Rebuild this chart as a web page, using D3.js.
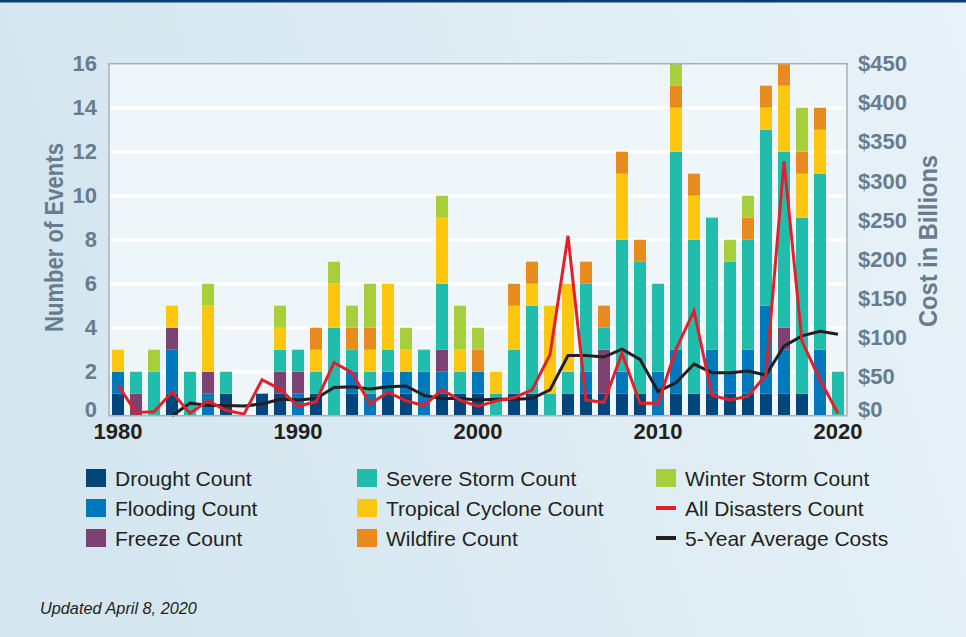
<!DOCTYPE html>
<html>
<head>
<meta charset="utf-8">
<script src="https://cdnjs.cloudflare.com/ajax/libs/d3/7.8.5/d3.min.js"></script>
<style>
  html, body { margin: 0; padding: 0; }
  body { width: 966px; height: 637px; overflow: hidden; }
  svg { display: block; }
</style>
</head>
<body>
<svg id="chart"></svg>
<script>
// data, one value per year 1980-2020
const years = d3.range(1980, 2021);
const drought  = [1,0,0,1,0,0,1,0,1,1, 0,1,0,1,0,1,1,0,1,1, 1,0,1,1,0,1,1,1,1,1, 0,1,1,1,1,1,1,1,1,0, 0];
const flooding = [1,0,0,2,0,1,0,0,0,0, 1,0,0,1,1,1,1,2,1,0, 1,0,0,0,0,0,1,0,1,0, 2,2,0,2,1,2,4,2,0,3, 0];
const freeze   = [0,1,0,1,0,1,0,0,0,1, 1,0,0,0,0,0,0,0,1,0, 0,0,0,0,0,0,0,2,0,0, 0,0,0,0,0,0,0,1,0,0, 0];
const severe   = [0,1,2,0,2,0,1,0,0,1, 1,1,4,1,1,1,0,1,3,1, 0,1,2,4,1,1,4,1,6,6, 4,9,7,6,5,5,8,8,8,8, 2];
const tropical = [1,0,0,1,0,3,0,0,0,1, 0,1,2,0,1,3,1,0,3,1, 0,1,2,1,4,4,0,0,3,0, 0,2,2,0,0,0,1,3,2,2, 0];
const wildfire = [0,0,0,0,0,0,0,0,0,0, 0,1,0,1,1,0,0,0,0,0, 1,0,1,1,0,0,1,1,1,1, 0,1,1,0,0,1,1,1,1,1, 0];
const winter   = [0,0,1,0,0,1,0,0,0,1, 0,0,1,1,2,0,1,0,1,2, 1,0,0,0,0,0,0,0,0,0, 0,1,0,0,1,1,0,0,2,0, 0];

// costs in billions of dollars
const allCost = [39,4,5,30,3,19,7,2,46,34, 12,18,68,55,15,30,19,13,33,20,
                 12,19,23,33,78,230,20,17,80,16, 16,85,134,26,20,25,52,325,95,46, 3];
const avgCost = [null,null,null,0,16,13,13,12.5,15,21, 20,22,36,37,34,37,38,26,22,22,
                 20,21,21,22,33,77,77,75,85,72, 31,42,66,55,55,57,52,89,102,108, 104];

const countTicks = d3.range(0, 17, 2);
const costTicks = d3.range(0, 451, 50);
const yearTicks = [1980, 1990, 2000, 2010, 2020];

const seriesKeys = ['drought', 'flooding', 'freeze', 'severe', 'tropical', 'wildfire', 'winter'];
const seriesNames = ['Drought Count', 'Flooding Count', 'Freeze Count', 'Severe Storm Count',
                     'Tropical Cyclone Count', 'Wildfire Count', 'Winter Storm Count'];
const seriesColors = ['#00457c', '#0078bc', '#7e4173', '#21bdac', '#fec70f', '#e78b1f', '#a7cf3b'];

const width = 966;
const height = 637;
const plot = {left: 109, right: 847, top: 63.7, bottom: 415.7};
const narrow = '"Liberation Sans Narrow", "Arial Narrow", sans-serif';
const axisGray = '#677c8f';

const svg = d3.select('#chart')
  .attr('width', width)
  .attr('height', height);

// page background
const defs = svg.append('defs');
const bg = defs.append('linearGradient')
  .attr('id', 'bg')
  .attr('x1', 0).attr('y1', 0.2).attr('x2', 1).attr('y2', 0);
bg.append('stop').attr('offset', 0).attr('stop-color', '#d4e6f0');
bg.append('stop').attr('offset', 1).attr('stop-color', '#e8f2f8');

svg.append('rect')
  .attr('width', width).attr('height', height)
  .attr('fill', 'url(#bg)');
svg.append('rect')
  .attr('width', width).attr('height', 2.5)
  .attr('fill', '#0b3f70');

// table for the stack
const table = years.map((y, i) => ({
  year: y,
  drought: drought[i], flooding: flooding[i], freeze: freeze[i], severe: severe[i],
  tropical: tropical[i], wildfire: wildfire[i], winter: winter[i]
}));

// scales
const x = d3.scaleBand()
  .domain(years)
  .range([plot.left, plot.right])
  .paddingInner(0.333)
  .paddingOuter(0.167);

const y = d3.scaleLinear()
  .domain([0, 16])
  .range([plot.bottom, plot.top]);

const yCost = d3.scaleLinear()
  .domain([0, 450])
  .range([plot.bottom, plot.top]);

const color = d3.scaleOrdinal().domain(seriesKeys).range(seriesColors);

// plot area
svg.append('rect')
  .attr('x', plot.left).attr('y', plot.top)
  .attr('width', plot.right - plot.left)
  .attr('height', plot.bottom - plot.top)
  .attr('fill', '#eef6f9');

svg.append('g')
  .selectAll('line')
  .data(countTicks.filter(d => d > 0 && d < 16))
  .join('line')
  .attr('x1', plot.left).attr('x2', plot.right)
  .attr('y1', d => y(d)).attr('y2', d => y(d))
  .attr('stroke', '#ffffff')
  .attr('stroke-width', 3);

// stacked bars
const stack = d3.stack().keys(seriesKeys);
svg.append('g')
  .selectAll('g')
  .data(stack(table))
  .join('g')
  .attr('fill', d => color(d.key))
  .selectAll('rect')
  .data(d => d.filter(s => s[1] > s[0]))
  .join('rect')
  .attr('x', d => x(d.data.year))
  .attr('y', d => y(d[1]))
  .attr('width', x.bandwidth())
  .attr('height', d => y(d[0]) - y(d[1]));

// cost lines
const xc = d => x(d) + x.bandwidth() / 2;

const line = d3.line()
  .defined(d => d[1] != null)
  .x(d => xc(d[0]))
  .y(d => yCost(d[1]));

svg.append('path')
  .datum(years.map((yr, i) => [yr, avgCost[i]]))
  .attr('d', line)
  .attr('fill', 'none')
  .attr('stroke', '#231f20')
  .attr('stroke-width', 3);

svg.append('path')
  .datum(years.map((yr, i) => [yr, allCost[i]]))
  .attr('d', line)
  .attr('fill', 'none')
  .attr('stroke', '#e0212c')
  .attr('stroke-width', 3);

// plot border
svg.append('rect')
  .attr('x', plot.left).attr('y', plot.top)
  .attr('width', plot.right - plot.left)
  .attr('height', plot.bottom - plot.top)
  .attr('fill', 'none')
  .attr('stroke', '#a9afb5')
  .attr('stroke-width', 1.5);

// axes
const leftAxis = svg.append('g')
  .attr('transform', `translate(${plot.left}, 0)`)
  .call(d3.axisLeft(y).tickValues(countTicks).tickSize(0).tickPadding(12));

const rightAxis = svg.append('g')
  .attr('transform', `translate(${plot.right}, 0)`)
  .call(d3.axisRight(yCost).tickValues(costTicks).tickSize(0).tickPadding(11)
    .tickFormat(d => '$' + d));

const bottomAxis = svg.append('g')
  .attr('transform', `translate(0, ${plot.bottom})`)
  .call(d3.axisBottom(x).tickValues(yearTicks).tickSize(0).tickPadding(8));

[leftAxis, rightAxis, bottomAxis].forEach(g => {
  g.select('.domain').remove();
  g.selectAll('text')
    .style('font-family', narrow)
    .style('font-weight', 'bold')
    .style('font-size', '22px');
});
leftAxis.selectAll('text').attr('fill', axisGray);
rightAxis.selectAll('text').attr('fill', axisGray);
bottomAxis.selectAll('text').attr('fill', '#231f20');
// the zero labels sit a little above the baseline
leftAxis.selectAll('.tick').filter(d => d === 0).select('text').attr('dy', '0.05em');
rightAxis.selectAll('.tick').filter(d => d === 0).select('text').attr('dy', '0.05em');

// axis titles
svg.append('text')
  .attr('transform', 'translate(63, 237.5) rotate(-90)')
  .attr('text-anchor', 'middle')
  .attr('textLength', 189)
  .attr('lengthAdjust', 'spacingAndGlyphs')
  .style('font-family', narrow)
  .style('font-weight', 'bold')
  .style('font-size', '26px')
  .attr('fill', axisGray)
  .text('Number of Events');

svg.append('text')
  .attr('transform', 'translate(937, 241) rotate(-90)')
  .attr('text-anchor', 'middle')
  .attr('textLength', 172)
  .attr('lengthAdjust', 'spacingAndGlyphs')
  .style('font-family', narrow)
  .style('font-weight', 'bold')
  .style('font-size', '26px')
  .attr('fill', axisGray)
  .text('Cost in Billions');

// legend
const legendItems = [
  {name: seriesNames[0], color: seriesColors[0], type: 'box', col: 0, row: 0},
  {name: seriesNames[1], color: seriesColors[1], type: 'box', col: 0, row: 1},
  {name: seriesNames[2], color: seriesColors[2], type: 'box', col: 0, row: 2},
  {name: seriesNames[3], color: seriesColors[3], type: 'box', col: 1, row: 0},
  {name: seriesNames[4], color: seriesColors[4], type: 'box', col: 1, row: 1},
  {name: seriesNames[5], color: seriesColors[5], type: 'box', col: 1, row: 2},
  {name: seriesNames[6], color: seriesColors[6], type: 'box', col: 2, row: 0},
  {name: 'All Disasters Count', color: '#e0212c', type: 'line', col: 2, row: 1},
  {name: '5-Year Average Costs', color: '#231f20', type: 'line', col: 2, row: 2}
];
const colX = [86, 357, 656];

const legend = svg.append('g')
  .selectAll('g')
  .data(legendItems)
  .join('g')
  .attr('transform', d => `translate(${colX[d.col]}, ${478 + d.row * 30})`);

legend.filter(d => d.type === 'box').append('rect')
  .attr('x', 0).attr('y', -9)
  .attr('width', 20).attr('height', 18)
  .attr('fill', d => d.color);

legend.filter(d => d.type === 'line').append('rect')
  .attr('x', 0).attr('y', -2)
  .attr('width', 20).attr('height', 4)
  .attr('fill', d => d.color);

legend.append('text')
  .attr('x', 29)
  .attr('y', 0)
  .attr('dy', '0.36em')
  .style('font-family', '"Liberation Sans", Arial, sans-serif')
  .style('font-size', '21px')
  .attr('fill', '#231f20')
  .text(d => d.name);

svg.append('text')
  .attr('x', 40)
  .attr('y', 614)
  .style('font-family', '"Liberation Sans", Arial, sans-serif')
  .style('font-style', 'italic')
  .style('font-size', '16.3px')
  .attr('fill', '#231f20')
  .text('Updated April 8, 2020');
</script>
</body>
</html>
